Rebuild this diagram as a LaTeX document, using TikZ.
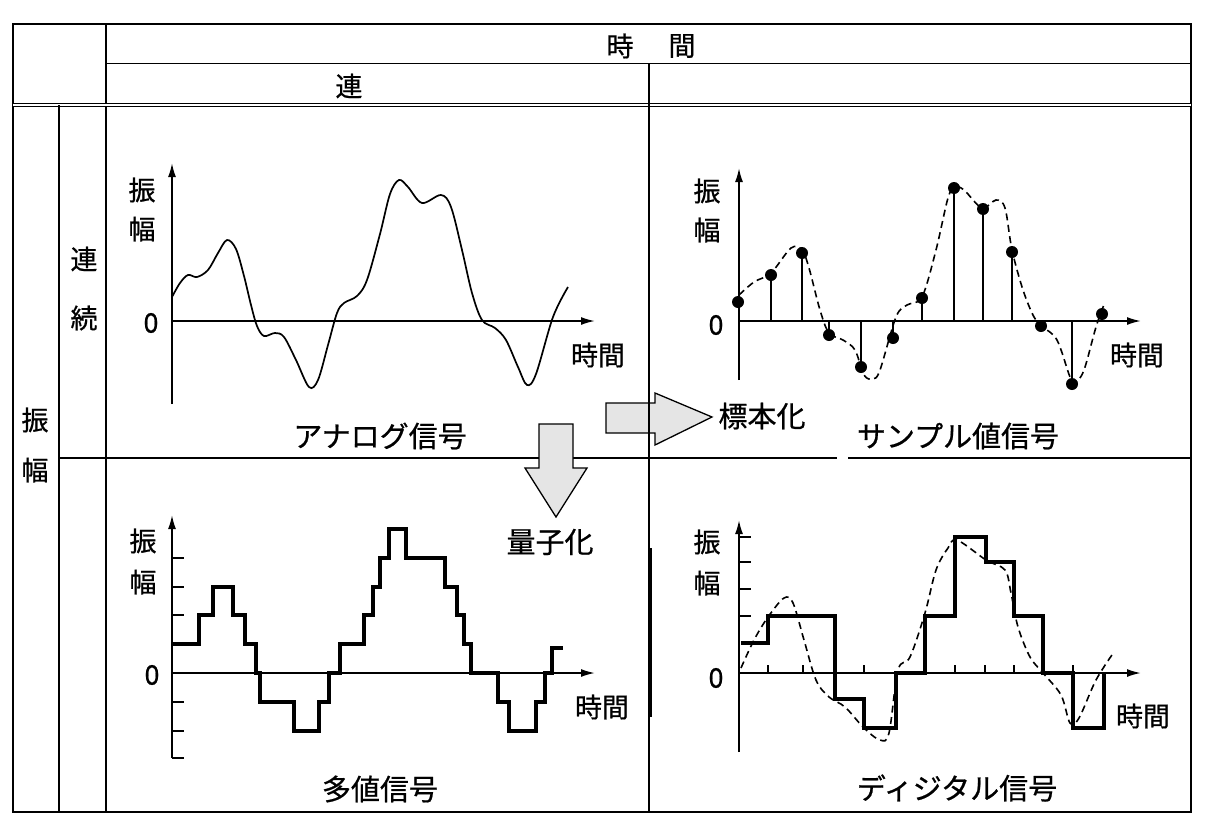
\documentclass[tikz,border=0pt]{standalone}
\usepackage{fontspec}
\setmainfont{Noto Sans CJK JP}[FakeBold=0.7]
\usetikzlibrary{arrows.meta}
\begin{document}
\begin{tikzpicture}[x=1pt,y=-1pt,
 frame/.style={line width=2.2pt},
 rule/.style={line width=1.5pt},
 axis/.style={line width=1.8pt,-{Latex[length=14pt,width=8pt]}},
 tick/.style={line width=1.5pt},
 analog/.style={line width=1.7pt},
 dashcurve/.style={line width=1.6pt,dash pattern=on 7pt off 4.5pt},
 stepsig/.style={line width=3.6pt,line join=miter},
 stem/.style={line width=2pt},
 sdot/.style={circle,fill=black,inner sep=0pt,minimum size=12pt},
 lbl/.style={font=\fontsize{27}{27}\selectfont,inner sep=0pt},
 capt/.style={font=\fontsize{29}{29}\selectfont,inner sep=0pt},
 bigarrow/.style={draw=black,line width=1.3pt,fill=gray!20},
]
\useasboundingbox[fill=white] (0,0) rectangle (1216,825);

% ---------- table ----------
\draw[frame] (13,24) rectangle (1191,812);
\draw[rule] (106,24) -- (106,812);
\draw[rule] (106,63.5) -- (1191,63.5);
\draw[line width=1pt,double,double distance=1.3pt] (13,105) -- (1191,105);
\draw[rule] (59,105) -- (59,812);
\draw[rule] (59,458) -- (837,458);
\draw[rule] (848,458) -- (1191,458);

\node[lbl] (hT1) at (620,46) {時};
\node[lbl] (hT2) at (682,46) {間};
\node[lbl] (hRen) at (349,86) {連};
\node[lbl] (vRen) at (84,259) {連};
\node[lbl] (vZoku) at (84,318) {続};
\node[lbl] (vShin) at (35,420) {振};
\node[lbl] (vFuku) at (35,470) {幅};

% ---------- big arrows ----------
\draw[bigarrow] (606,403) -- (655,403) -- (655,393) -- (712,417) -- (655,445) -- (655,433) -- (606,433) -- cycle;
\draw[rule] (649,63.5) -- (649,812);
\draw[bigarrow] (539,424) -- (573,424) -- (573,468) -- (587,468) -- (556,517) -- (525,468) -- (539,468) -- cycle;
\node[capt] (hyohon) at (762,416) {標本化};
\node[capt] (ryoshi) at (550,542) {量子化};
\draw[line width=4.5pt] (650,548) -- (650,717);

% ---------- panel TL: analog ----------
\draw[axis] (172,404) -- (172,163);
\draw[axis] (172,321) -- (595,321);
\node[lbl] (a1) at (142,190) {振};
\node[lbl] (a2) at (142,229) {幅};
\node[lbl] (a0) at (151,323) {0};
\node[lbl] (at) at (598,355) {時間};
\node[capt] (acap) at (380,436) {アナログ信号};
\draw[analog] plot[smooth,tension=0.55] coordinates {
(172,297) (180,283) (188,275) (197,277) (208,270) (218,253) (227,240) (236,249) (244,276) (251,305) (257,326) (264,336) (275,333) (284,337) (296,360) (309,387) (318,380) (328,345) (337,313) (344,303) (357,296) (367,280) (380,234) (390,194) (399,180) (408,187) (422,203) (441,195) (451,207) (462,250) (472,293) (482,320) (495,328) (506,340) (518,367) (527,385) (536,374) (553,317) (568,287)};

% ---------- panel TR: sampled ----------
\draw[axis] (739,380) -- (739,168);
\draw[axis] (739,321) -- (1141,321);
\node[lbl] (b1) at (707,191) {振};
\node[lbl] (b2) at (707,230) {幅};
\node[lbl] (b0) at (716,325) {0};
\node[lbl] (bt) at (1137,355) {時間};
\node[capt] (bcap) at (958,436) {サンプル値信号};
\draw[dashcurve] plot[smooth,tension=0.55] coordinates {
(739,295) (754,282) (771,273) (791,248) (802,250) (809,268) (820,310) (829,333) (843,340) (855,350) (864,375) (873,379) (880,370) (896,317) (907,305) (922,297) (936,250) (948,198) (955,187) (964,190) (982,208) (996,200) (1005,208) (1012,250) (1023,290) (1034,317) (1043,327) (1057,340) (1070,377) (1075,383) (1084,370) (1096,327) (1105,302)};
\foreach \x/\y in {771/275,802/253,829/335,861/367,893/338,922/298,983/209,1012/252,1041/326,1072/384}
  \draw[stem] (\x,321) -- (\x,\y);
\draw[line width=1.1pt] (954,321) -- (954,188);
\foreach \x/\y [count=\i] in {738/302,771/275,802/253,829/335,861/367,893/338,922/298,954/188,983/209,1012/252,1041/326,1072/384,1102/314}
  \node[sdot] (s\i) at (\x,\y) {};

% ---------- panel BL: multi-level ----------
\draw[axis] (172,758) -- (172,515);
\draw[axis] (172,673) -- (595,673);
\foreach \y in {558,587,615,644,702,731,758}
  \draw[tick] (172,\y) -- (184,\y);
\node[lbl] (c1) at (143,541) {振};
\node[lbl] (c2) at (143,582) {幅};
\node[lbl] (c0) at (152,675) {0};
\node[lbl] (ct) at (602,707) {時間};
\node[capt] (ccap) at (380,789) {多値信号};
\draw[stepsig] (173,644) -- (199,644) -- (199,615) -- (213,615) -- (213,587) -- (233,587) -- (233,615) -- (245,615) -- (245,644) -- (256,644) -- (256,673) -- (260,673) -- (260,702) -- (294,702) -- (294,731) -- (319,731) -- (319,702) -- (329,702) -- (329,673) -- (340,673) -- (340,644) -- (364,644) -- (364,615) -- (373,615) -- (373,587) -- (380,587) -- (380,558) -- (389,558) -- (389,529) -- (406,529) -- (406,558) -- (445,558) -- (445,587) -- (457,587) -- (457,615) -- (464,615) -- (464,644) -- (471,644) -- (471,673) -- (498,673) -- (498,702) -- (509,702) -- (509,731) -- (536,731) -- (536,702) -- (545,702) -- (545,673) -- (552,673) -- (552,648) -- (563,648);

% ---------- panel BR: digital ----------
\draw[axis] (739,752) -- (739,520);
\draw[axis] (739,673) -- (1141,673);
\foreach \y in {537,562,589,616}
  \draw[tick] (739,\y) -- (751,\y);
\foreach \x in {768,803,864,955,985,1014,1073}
  \draw[tick] (\x,673) -- (\x,665);
\node[lbl] (d1) at (707,542) {振};
\node[lbl] (d2) at (707,583) {幅};
\node[lbl] (d0) at (716,678) {0};
\node[lbl] (dt) at (1143,716) {時間};
\node[capt] (dcap) at (957,788) {ディジタル信号};
\draw[dashcurve] plot[smooth,tension=0.55] coordinates {
(741,668) (754,640) (768,617) (784,598) (793,603) (804,640) (816,680) (829,697) (845,707) (864,728) (880,740) (889,733) (898,670) (910,657) (925,613) (936,570) (948,548) (957,540) (986,560) (1005,570) (1011,593) (1018,627) (1030,657) (1043,673) (1061,695) (1070,723) (1079,718) (1096,680) (1114,652)};
\draw[stepsig] (741,643) -- (768,643) -- (768,616) -- (835,616) -- (835,699) -- (864,699) -- (864,728) -- (896,728) -- (896,673) -- (925,673) -- (925,616) -- (955,616) -- (955,537) -- (986,537) -- (986,562) -- (1014,562) -- (1014,616) -- (1043,616) -- (1043,673) -- (1073,673) -- (1073,728) -- (1104,728) -- (1104,673);
\end{tikzpicture}
\end{document}
